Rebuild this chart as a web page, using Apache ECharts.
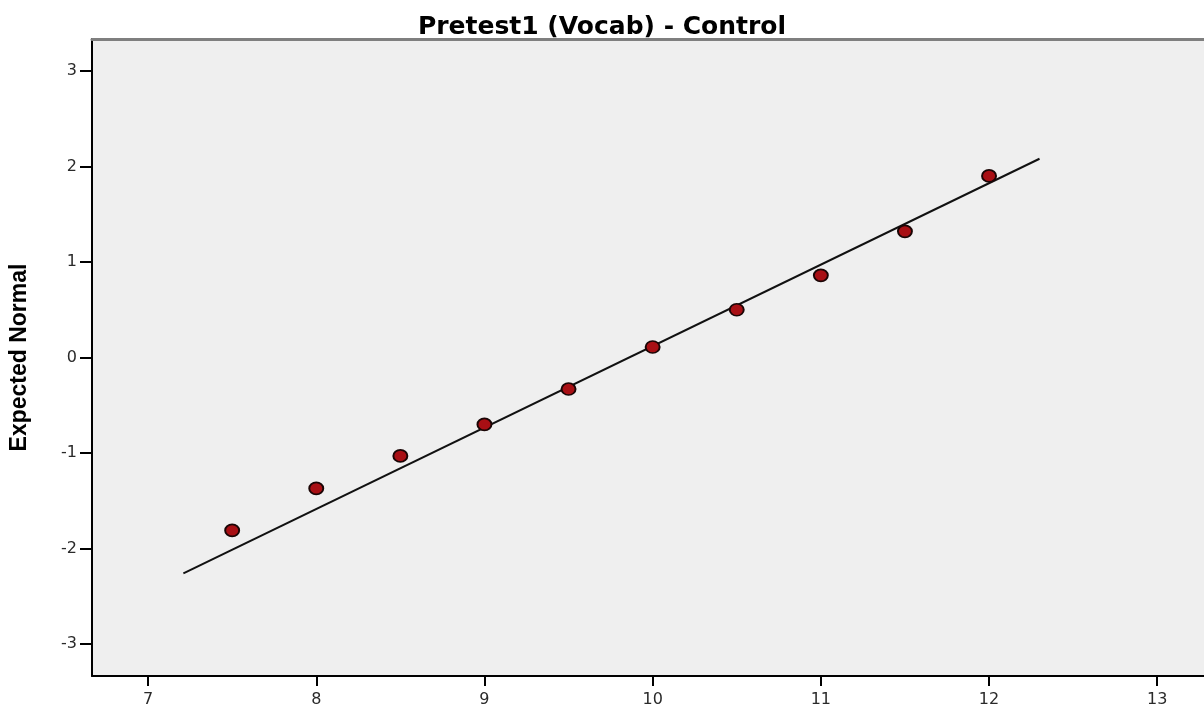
<!DOCTYPE html>
<html><head><meta charset="utf-8">
<script src="https://cdn.jsdelivr.net/npm/echarts@6/dist/echarts.min.js"></script>
<style>html,body{margin:0;padding:0;background:#fff}#c{width:1204px;height:709px}</style>
</head><body><div id="c"></div>
<script>
const title = 'Pretest1 (Vocab) - Control';
const yName = 'Expected Normal';
const xTicks = [7, 8, 9, 10, 11, 12, 13];
const yTicks = [-3, -2, -1, 0, 1, 2, 3];
const observed = [7.5, 8, 8.5, 9, 9.5, 10, 10.5, 11, 11.5, 12];
const expected = [-1.81, -1.37, -1.03, -0.70, -0.33, 0.11, 0.50, 0.86, 1.32, 1.90];
const lineX = [7.21, 12.30];
const lineY = [-2.26, 2.08];

const tickFont = { color: '#2a2a2a', fontFamily: 'DejaVu Sans, Liberation Sans', fontSize: 16 };
const chart = echarts.init(document.getElementById('c'));
chart.setOption({
  animation: false,
  title: { text: title, left: 'center', top: 10,
    textStyle: { fontFamily: 'DejaVu Sans, Liberation Sans', fontWeight: 'bold', fontSize: 25, color: '#000' } },
  grid: { left: 91, right: 0, top: 39, bottom: 33, show: true,
    backgroundColor: '#efefef', borderWidth: 0 },
  xAxis: [{ type: 'value', min: 6.6667, max: 13.278,
    axisLine: { show: true, onZero: false, lineStyle: { color: '#000', width: 2 } },
    axisTick: { show: true, length: 10, lineStyle: { color: '#000', width: 2 }, customValues: xTicks },
    axisLabel: Object.assign({ margin: 16, customValues: xTicks }, tickFont),
    splitLine: { show: false } },
    { type: 'value', position: 'top', min: 6.6667, max: 13.278,
    axisLine: { show: true, onZero: false, lineStyle: { color: '#7f7f7f', width: 3 } },
    axisTick: { show: false }, axisLabel: { show: false }, splitLine: { show: false } }],
  yAxis: { type: 'value', min: -3.3333, max: 3.3333,
    name: yName, nameLocation: 'middle', nameGap: 61, nameRotate: 90,
    nameTextStyle: { fontFamily: 'Liberation Sans, Arial', fontWeight: 'bold', fontSize: 23, color: '#000' },
    axisLine: { show: true, onZero: false, lineStyle: { color: '#000', width: 2 } },
    axisTick: { show: true, length: 12, lineStyle: { color: '#000', width: 2 }, customValues: yTicks },
    axisLabel: Object.assign({ margin: 15, customValues: yTicks }, tickFont),
    splitLine: { show: false } },
  series: [
    { type: 'line', data: lineX.map((x, i) => [x, lineY[i]]), symbol: 'none',
      lineStyle: { color: '#111', width: 2 }, z: 2 },
    { type: 'scatter', data: observed.map((x, i) => [x, expected[i]]), symbol: 'circle',
      symbolSize: [14, 12], itemStyle: { color: '#a80f14', opacity: 1, borderColor: '#1a0505', borderWidth: 1.8 }, z: 3 }
  ]
});
</script></body></html>
